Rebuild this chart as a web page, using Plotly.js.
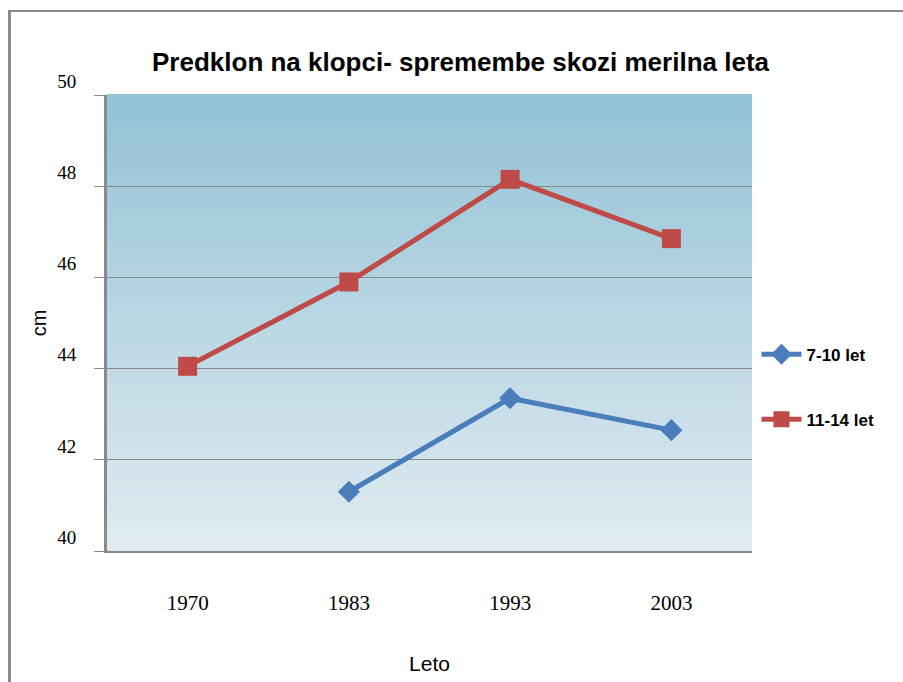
<!DOCTYPE html>
<html>
<head>
<meta charset="utf-8">
<script src="https://cdn.plot.ly/plotly-3.0.1.min.js"></script>
<style>
  html, body { margin: 0; padding: 0; background: #fff; }
  #wrap { position: relative; width: 903px; height: 682px; overflow: hidden; }
  #chart { position: absolute; left: 0; top: 0; width: 903px; height: 682px; }
  #frame { position: absolute; left: 8px; top: 10px; width: 900px; height: 700px;
           border-left: 3px solid #8a8a8a; border-top: 2px solid #8a8a8a; pointer-events: none; }
</style>
</head>
<body>
<div id="wrap">
  <div id="chart"></div>
  <div id="frame"></div>
</div>
<script>
// Data
const years = ["1970", "1983", "1993", "2003"];
const seriesNames = ["7-10 let", "11-14 let"];
const values7to10 = [null, 41.3, 43.35, 42.65];
const values11to14 = [44.05, 45.9, 48.15, 46.85];
const yTicks = [40, 42, 44, 46, 48, 50];

// Gradient background stripes (style only)
const shapes = [];
const nStripes = 60;
const gradTop = [147, 195, 214], gradBot = [224, 235, 241];
for (let i = 0; i < nStripes; i++) {
  const t = i / (nStripes - 1);
  const c = gradTop.map((v, k) => Math.round(v + (gradBot[k] - v) * t));
  shapes.push({
    type: 'rect', xref: 'x domain', yref: 'y domain', layer: 'below',
    x0: 0, x1: 1, y0: 1 - (i + 1) / nStripes, y1: 1 - i / nStripes + 0.002,
    fillcolor: `rgb(${c[0]},${c[1]},${c[2]})`, line: { width: 0 }
  });
}

const traces = [
  {
    x: years, y: values7to10, name: seriesNames[0], type: 'scatter', mode: 'lines+markers',
    line: { color: '#4a7ebb', width: 5 },
    marker: { symbol: 'diamond', size: 17, color: '#4a7ebb' },
    legendgroup: 'a', connectgaps: false
  },
  {
    x: years, y: values11to14, name: seriesNames[1], type: 'scatter', mode: 'lines+markers',
    line: { color: '#be4b48', width: 5 },
    marker: { symbol: 'square', size: 19, color: '#be4b48' },
    legendgroup: 'b'
  }
];

const layout = {
  width: 903, height: 682,
  margin: { l: 107, r: 151, t: 95, b: 131 },
  paper_bgcolor: '#ffffff',
  plot_bgcolor: 'rgba(0,0,0,0)',
  showlegend: true,
  title: {
    text: 'Predklon na klopci- spremembe skozi merilna leta',
    font: { family: 'Liberation Sans, Arial, sans-serif', size: 26, color: '#000', weight: 'bold' },
    xref: 'container', x: 0.51, xanchor: 'center',
    yref: 'container', y: 1 - 62 / 682, yanchor: 'middle'
  },
  xaxis: {
    type: 'category', range: [-0.5, 3.5],
    showgrid: false, zeroline: false,
    showline: true, linecolor: '#8a8a8a', linewidth: 2,
    ticks: '', ticklabelstandoff: 32,
    tickfont: { family: 'Liberation Serif, Times New Roman, serif', size: 21, color: '#000' },
    title: { text: 'Leto', font: { family: 'Liberation Sans, Arial, sans-serif', size: 21, color: '#000' }, standoff: 42 }
  },
  yaxis: {
    range: [40, 50], tickvals: yTicks, ticktext: yTicks.map(String),
    showgrid: true, gridcolor: '#8a8a8a', gridwidth: 1,
    zeroline: false,
    showline: true, linecolor: '#8a8a8a', linewidth: 3,
    ticks: 'outside', ticklen: 10, tickcolor: '#8a8a8a', tickwidth: 1,
    ticklabelposition: 'outside top', ticklabelstandoff: 24,
    tickfont: { family: 'Liberation Serif, Times New Roman, serif', size: 19, color: '#000' },
    title: { text: 'cm', font: { family: 'Liberation Sans, Arial, sans-serif', size: 20, color: '#000' }, standoff: 6 }
  },
  legend: {
    x: 1.007, xanchor: 'left', y: 0.47, yanchor: 'top',
    traceorder: 'grouped', tracegroupgap: 40,
    font: { family: 'Liberation Sans, Arial, sans-serif', size: 17, color: '#000', weight: 'bold' },
    bgcolor: 'rgba(0,0,0,0)', itemwidth: 40
  },
  shapes: shapes
};

Plotly.newPlot('chart', traces, layout, { displayModeBar: false, staticPlot: true });
</script>
</body>
</html>
